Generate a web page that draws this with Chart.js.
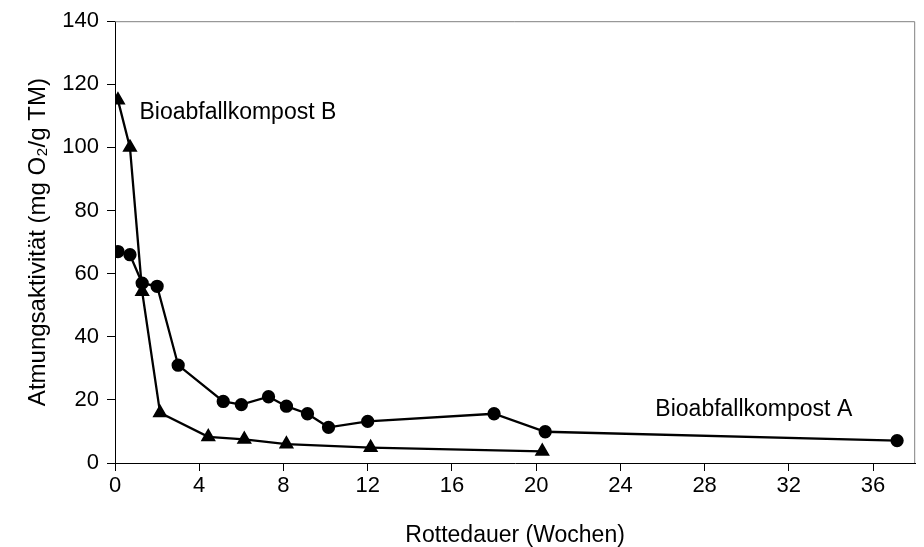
<!DOCTYPE html>
<html>
<head>
<meta charset="utf-8">
<script src="https://cdn.jsdelivr.net/npm/chart.js@4.4.0/dist/chart.umd.min.js"></script>
<style>
  html, body { margin: 0; padding: 0; background: #fff; }
  #wrap { width: 924px; height: 547px; }
</style>
</head>
<body>
<div id="wrap"><canvas id="myChart" width="924" height="547"></canvas></div>
<script>
// Rottedauer in Wochen
const weeksA = [0.14, 0.71, 1.29, 2.0, 3.0, 5.14, 6.0, 7.29, 8.14, 9.14, 10.14, 12.0, 18.0, 20.43, 37.14];
const activityA = [67, 66, 57, 56, 31, 19.5, 18.5, 21, 18, 15.6, 11.3, 13.2, 15.6, 9.9, 7.1];

const weeksB = [0.14, 0.71, 1.29, 2.14, 4.43, 6.14, 8.14, 12.14, 20.29];
const activityB = [115, 100, 54.3, 15.9, 8.3, 7.5, 6.0, 4.9, 3.7];

const xTicks = [0, 4, 8, 12, 16, 20, 24, 28, 32, 36];

// Beschriftungen im Diagramm: [text, x, y]
const seriesLabels = [
    ['Bioabfallkompost B', 1.16, 111],
    ['Bioabfallkompost A', 25.66, 16.8],
];

const FONT = 'Arial, "Liberation Sans", sans-serif';

const toPoints = (xs, ys) => xs.map((x, i) => ({ x: x, y: ys[i] }));

const frameAndLabels = {
    id: 'frameAndLabels',
    beforeDatasetsDraw(chart) {
        const { ctx, chartArea: a } = chart;
        ctx.save();
        ctx.strokeStyle = '#808080';
        ctx.lineWidth = 1;
        ctx.beginPath();
        ctx.moveTo(a.left, a.top + 0.5);
        ctx.lineTo(a.right - 0.5, a.top + 0.5);
        ctx.lineTo(a.right - 0.5, a.bottom);
        ctx.stroke();
        ctx.restore();
    },
    afterDatasetsDraw(chart) {
        const { ctx, scales } = chart;
        ctx.save();
        ctx.fillStyle = '#000';
        ctx.font = '23px ' + FONT;
        ctx.textAlign = 'left';
        ctx.textBaseline = 'middle';
        seriesLabels.forEach(([t, x, y]) => {
            ctx.fillText(t, scales.x.getPixelForValue(x), scales.y.getPixelForValue(y));
        });
        ctx.restore();
    }
};

const data = {
    datasets: [{
        label: 'Bioabfallkompost A',
        data: toPoints(weeksA, activityA),
        borderColor: '#000',
        backgroundColor: '#000',
        borderWidth: 2.3,
        pointStyle: 'circle',
        pointRadius: 5.5,
        pointHoverRadius: 5.5,
        tension: 0,
    },
    {
        label: 'Bioabfallkompost B',
        data: toPoints(weeksB, activityB),
        borderColor: '#000',
        backgroundColor: '#000',
        borderWidth: 2.3,
        pointStyle: 'triangle',
        pointRadius: 6.5,
        pointHoverRadius: 6.5,
        tension: 0,
    }]
};

const config = {
    type: 'line',
    data: data,
    plugins: [frameAndLabels],
    options: {
        responsive: false,
        animation: false,
        layout: { padding: { top: 19, right: 3, bottom: 0, left: 0 } },
        plugins: {
            legend: { display: false },
            tooltip: { enabled: false },
        },
        scales: {
            x: {
                type: 'linear',
                min: 0,
                max: 38,
                afterBuildTicks: (s) => { s.ticks = xTicks.map(v => ({ value: v })); },
                afterFit: (s) => { s.height = 84; },
                grid: { display: true, drawOnChartArea: false, drawTicks: true, tickLength: 8, color: '#000' },
                border: { display: true, color: '#000', width: 1 },
                ticks: { color: '#000', font: { family: FONT, size: 22 }, padding: 2, maxRotation: 0 },
                title: {
                    display: true,
                    text: 'Rottedauer (Wochen)',
                    color: '#000',
                    font: { family: FONT, size: 23 },
                    padding: { top: 0, bottom: -2 },
                },
            },
            y: {
                min: 0,
                max: 140,
                afterFit: (s) => { s.width = 115; },
                grid: { display: true, drawOnChartArea: false, drawTicks: true, tickLength: 8, color: '#000' },
                border: { display: true, color: '#000', width: 1 },
                ticks: { stepSize: 20, color: '#000', font: { family: FONT, size: 22 }, padding: 8 },
                title: {
                    display: true,
                    text: 'Atmungsaktivität (mg O₂/g TM)',
                    color: '#000',
                    font: { family: FONT, size: 24 },
                    padding: { top: 24, bottom: 0 },
                },
            }
        }
    }
};

var myChart = new Chart(
    document.getElementById('myChart'),
    config
);
</script>
</body>
</html>
